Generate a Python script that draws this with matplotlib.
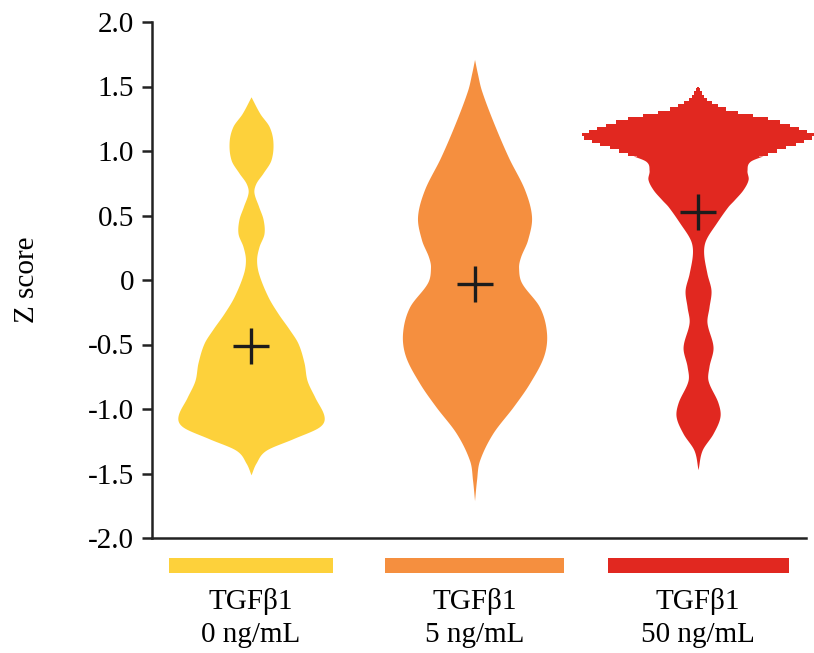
import numpy as np
import matplotlib
matplotlib.use("Agg")
import matplotlib.pyplot as plt
from matplotlib.patches import Rectangle

plt.rcParams["font.family"] = ["Liberation Serif", "DejaVu Serif"]

# ---- data -------------------------------------------------------------
group_names = ["TGF\u03b21", "TGF\u03b21", "TGF\u03b21"]
conc_labels = ["0 ng/mL", "5 ng/mL", "50 ng/mL"]
means = [-0.51, -0.03, 0.53]

# violin outlines: Z-score levels and half-width of the density at each level
y_0ng = [-1.51, -1.42, -1.32, -1.23, -1.14, -1.06, -0.91, -0.78, -0.64, -0.49,
         -0.38, -0.26, -0.13, 0.05, 0.16, 0.26, 0.36, 0.47, 0.57, 0.68,
         0.75, 0.83, 0.93, 1.07, 1.19, 1.29, 1.42]
w_0ng = [0.000, 0.022, 0.067, 0.188, 0.304, 0.327, 0.286, 0.251, 0.237, 0.210,
         0.170, 0.121, 0.076, 0.034, 0.025, 0.036, 0.058, 0.054, 0.034, 0.013,
         0.022, 0.054, 0.089, 0.098, 0.081, 0.040, 0.000]

y_5ng = [-1.71, -1.55, -1.40, -1.19, -0.98, -0.80, -0.59, -0.41, -0.21, -0.02,
         0.10, 0.18, 0.31, 0.49, 0.70, 0.95, 1.22, 1.47, 1.60, 1.71]
w_5ng = [0.000, 0.009, 0.022, 0.081, 0.174, 0.246, 0.309, 0.322, 0.291, 0.210,
         0.197, 0.206, 0.237, 0.255, 0.224, 0.152, 0.085, 0.031, 0.013, 0.000]

y_50ng = [-1.47, -1.32, -1.19, -1.06, -0.95, -0.78, -0.67, -0.52, -0.33, -0.21,
          -0.08, 0.05, 0.21, 0.31, 0.44, 0.57, 0.62, 0.70, 0.78, 0.85,
          0.92, 0.97, 1.03, 1.08, 1.12, 1.16, 1.24, 1.32, 1.40, 1.45, 1.51]
w_50ng = [0.000, 0.018, 0.067, 0.098, 0.089, 0.045, 0.049, 0.067, 0.040, 0.049,
          0.058, 0.040, 0.025, 0.034, 0.081, 0.134, 0.161, 0.201, 0.224, 0.219,
          0.233, 0.304, 0.403, 0.483, 0.519, 0.474, 0.336, 0.134, 0.040, 0.018, 0.000]

yticks = [-2.0, -1.5, -1.0, -0.5, 0.0, 0.5, 1.0, 1.5, 2.0]
ytick_labels = ["-2.0", "-1.5", "-1.0", "-0.5", "0", "0.5", "1.0", "1.5", "2.0"]

# ---- style ------------------------------------------------------------
colors = ["#FDD13B", "#F58F3F", "#E12820"]
bar_widths = [0.734, 0.805, 0.81]
step_above = [None, None, 0.95]   # level above which the outline is drawn as a staircase


def hermite_profile(y, w, n=24):
    """Smooth cubic Hermite curve through the outline points."""
    y = np.asarray(y, float)
    w = np.asarray(w, float)
    m = np.empty_like(w)
    m[1:-1] = (w[2:] - w[:-2]) / (y[2:] - y[:-2])
    m[0] = (w[1] - w[0]) / (y[1] - y[0])
    m[-1] = (w[-1] - w[-2]) / (y[-1] - y[-2])
    ys, ws = [], []
    for i in range(len(y) - 1):
        h = y[i + 1] - y[i]
        t = np.linspace(0, 1, n, endpoint=False)
        h00 = 2 * t**3 - 3 * t**2 + 1
        h10 = t**3 - 2 * t**2 + t
        h01 = -2 * t**3 + 3 * t**2
        h11 = t**3 - t**2
        ys.append(y[i] + t * h)
        ws.append(h00 * w[i] + h10 * h * m[i] + h01 * w[i + 1] + h11 * h * m[i + 1])
    ys.append([y[-1]])
    ws.append([w[-1]])
    return np.concatenate(ys), np.clip(np.concatenate(ws), 0, None)


fig = plt.figure(figsize=(8.14, 6.53), dpi=100)
ax = fig.add_axes([152 / 814, 115 / 653, 654 / 814, 516 / 653])

profiles = [(y_0ng, w_0ng), (y_5ng, w_5ng), (y_50ng, w_50ng)]
for i, ((yv, wv), col) in enumerate(zip(profiles, colors)):
    ys, ws = hermite_profile(yv, wv)
    cut = step_above[i]
    if cut is not None:
        low = ys <= cut + 0.0125
        ax.fill_betweenx(ys[low], i - ws[low], i + ws[low], color=col,
                         linewidth=0, clip_on=False, zorder=2)
        yg = np.arange(cut, ys[-1] + 1e-9, 0.025)
        wg = np.interp(yg, ys, ws)
        ax.fill_betweenx(yg, i - wg, i + wg, step="mid", color=col,
                         linewidth=0, clip_on=False, zorder=2)
    else:
        ax.fill_betweenx(ys, i - ws, i + ws, color=col, linewidth=0,
                         clip_on=False, zorder=2)
    ax.plot(i, means[i], marker="+", markersize=26, markeredgewidth=2.4,
            color="#1c1c1c", zorder=3, clip_on=False)

    # colour key bar and group label under the axis
    ax.add_patch(Rectangle((i - bar_widths[i] / 2, -2.271), bar_widths[i], 0.116,
                           facecolor=col, edgecolor="none", clip_on=False))
    ax.text(i, -2.49, group_names[i], ha="center", va="center", fontsize=21)
    ax.text(i, -2.75, conc_labels[i], ha="center", va="center", fontsize=21)

ax.set_xlim(-0.443, 2.483)
ax.set_ylim(-2.0, 2.0)
ax.set_yticks(yticks)
ax.set_yticklabels(ytick_labels)
ax.set_xticks([])
ax.tick_params(axis="y", direction="out", length=7, width=1.8, pad=6,
               labelsize=21, color="#222222")
for side in ("top", "right"):
    ax.spines[side].set_visible(False)
for side in ("left", "bottom"):
    ax.spines[side].set_linewidth(1.8)
    ax.spines[side].set_color("#222222")

ax.set_ylabel("Z score", fontsize=21)
ax.yaxis.set_label_coords(-0.172, 0.5)

fig.savefig("out.png", dpi=100)
